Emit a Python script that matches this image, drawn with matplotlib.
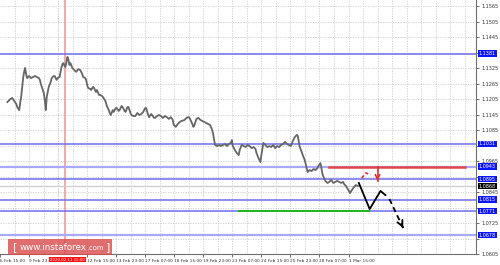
import matplotlib
matplotlib.use("Agg")
import matplotlib.pyplot as plt
import matplotlib.transforms as mtransforms
from matplotlib.patches import Rectangle

#------------------------------ data ------------------------------
bar_x = [0, 3, 5, 7, 9, 10, 12, 13, 14, 15, 16, 17, 18, 19, 20, 22, 24, 26, 28, 30,
         32, 33, 34, 35, 36, 37, 38, 39, 40, 41, 42, 44, 45, 47, 48, 50, 51, 53, 54, 55,
         56, 57, 58, 59, 60, 61, 62, 63, 64, 66, 68, 70, 72, 74, 76, 77, 79, 80, 81, 82,
         84, 85, 87, 88, 90, 91, 93, 94, 96, 97, 99, 100, 101, 103, 104, 105, 107, 108, 110, 111,
         113, 114, 116, 117, 119, 120, 122, 123, 125, 126, 128, 130, 132, 134, 136, 138, 140, 141, 143, 144,
         146, 147, 149, 150, 152, 154, 156, 158, 160, 162, 164, 166, 168, 169, 171, 173, 175, 177, 180, 182,
         184, 185, 187, 189, 190, 192, 194, 196, 198, 200, 202, 204, 206, 208, 209, 210, 211, 213, 215, 217,
         219, 221, 223, 225, 227, 228, 229, 231, 233, 235, 236, 238, 240, 242, 244, 246, 248, 250, 252, 253,
         255, 257, 258, 260, 262, 264, 266, 268, 270, 272, 274, 276, 278, 280, 282, 284, 286, 288, 290, 292,
         294, 295, 296, 297, 299, 300, 302, 303, 304, 305, 307, 309, 311, 313, 315, 316, 318, 319, 320, 322,
         323, 325, 327, 329, 331, 333, 335, 337, 339, 341, 342, 344, 345, 347, 348, 350, 352, 354, 356]
close = [1.1193, 1.1205, 1.1209, 1.1197, 1.1186, 1.1174, 1.1162, 1.1190, 1.1213, 1.1248, 1.1286, 1.1310, 1.1325, 1.1302, 1.1286, 1.1294, 1.1286, 1.1290, 1.1294, 1.1290,
         1.1286, 1.1279, 1.1263, 1.1252, 1.1240, 1.1228, 1.1201, 1.1162, 1.1213, 1.1232, 1.1252, 1.1271, 1.1286, 1.1294, 1.1294, 1.1279, 1.1286, 1.1290, 1.1310, 1.1329,
         1.1341, 1.1344, 1.1333, 1.1329, 1.1348, 1.1368, 1.1356, 1.1337, 1.1344, 1.1325, 1.1317, 1.1310, 1.1321, 1.1317, 1.1302, 1.1290, 1.1286, 1.1279, 1.1259, 1.1248,
         1.1244, 1.1240, 1.1252, 1.1248, 1.1232, 1.1240, 1.1221, 1.1221, 1.1217, 1.1213, 1.1201, 1.1193, 1.1178, 1.1162, 1.1151, 1.1143, 1.1162, 1.1155, 1.1170, 1.1170,
         1.1159, 1.1162, 1.1178, 1.1174, 1.1159, 1.1155, 1.1174, 1.1174, 1.1151, 1.1143, 1.1139, 1.1139, 1.1151, 1.1143, 1.1147, 1.1155, 1.1170, 1.1170, 1.1143, 1.1135,
         1.1147, 1.1143, 1.1132, 1.1132, 1.1139, 1.1143, 1.1139, 1.1132, 1.1139, 1.1135, 1.1128, 1.1135, 1.1124, 1.1104, 1.1097, 1.1108, 1.1116, 1.1120, 1.1124, 1.1132,
         1.1135, 1.1132, 1.1116, 1.1097, 1.1104, 1.1128, 1.1132, 1.1124, 1.1120, 1.1116, 1.1112, 1.1108, 1.1104, 1.1085, 1.1070, 1.1046, 1.1027, 1.1023, 1.1027, 1.1023,
         1.1027, 1.1031, 1.1023, 1.1031, 1.1035, 1.1046, 1.1023, 1.1008, 1.0996, 1.0988, 1.1008, 1.1027, 1.1023, 1.1019, 1.1027, 1.1023, 1.1015, 1.1019, 1.1012, 1.0996,
         1.0977, 1.0961, 1.0988, 1.1035, 1.1027, 1.1019, 1.1023, 1.1019, 1.1027, 1.1015, 1.1023, 1.1019, 1.1027, 1.1031, 1.1039, 1.1031, 1.1027, 1.1023, 1.1043, 1.1058,
         1.1066, 1.1062, 1.1039, 1.1019, 1.1000, 1.0988, 1.0969, 1.0953, 1.0938, 1.0922, 1.0930, 1.0926, 1.0934, 1.0930, 1.0938, 1.0946, 1.0957, 1.0938, 1.0915, 1.0895,
         1.0888, 1.0880, 1.0884, 1.0892, 1.0880, 1.0884, 1.0888, 1.0884, 1.0880, 1.0884, 1.0876, 1.0868, 1.0861, 1.0849, 1.0841, 1.0853, 1.0864, 1.0872, 1.0868]

price_ticks = [1.1565, 1.1505, 1.1445, 1.1385, 1.1325, 1.1265, 1.1205, 1.1145, 1.1085,
               1.1025, 1.0965, 1.0905, 1.0845, 1.0785, 1.0725, 1.0665, 1.0605]
date_ticks = [-7.5, 22, 81, 110.5, 140, 169.5, 199, 228.5, 258, 287.5, 317, 346.5]
date_labels = ["6 Feb 15:00", "9 Feb 23:00", "12 Feb 15:00", "13 Feb 23:00", "17 Feb 07:00",
               "18 Feb 15:00", "19 Feb 23:00", "23 Feb 07:00", "24 Feb 15:00", "25 Feb 23:00",
               "28 Feb 07:00", "1 Mar 15:00"]
cursor_x = 59
cursor_label = "2020.02.11 15:00"

levels = [1.1381, 1.1031, 1.0943, 1.0895, 1.0815, 1.0771, 1.0678]
current_price = 1.0868
resistance = 1.0943
resistance_span = [327, 465]
support = 1.0771
support_span = [235, 367]

# forecast sketch (bar, price)
fc_solid_x = [357, 368, 379, 384]
fc_solid_y = [1.0880, 1.0779, 1.0849, 1.0833]
fc_dash_x = [388, 402]
fc_dash_y = [1.0818, 1.0706]
alt_dash_x = [360, 364, 369]
alt_dash_y = [1.0899, 1.0919, 1.0911]
alt_down_x = [376, 376]
alt_down_y = [1.0942, 1.0888]

#----------------------------------------- figure -----------------------------------------
fig = plt.figure(figsize=(5.0, 2.65), dpi=100)
fig.patch.set_facecolor("white")
ax = fig.add_axes([0, 11 / 265, 476 / 500, 254 / 265])
ax.set_xlim(0, 476)
ax.set_ylim(1.0605, 1.15883)

# dotted grid
grid_kw = dict(color="#cccccc", lw=0.6, ls=(0, (1.5, 1.5)), zorder=0)
for p in price_ticks:
    ax.axhline(p, **grid_kw)
gx = [7.25, 36.75, 51.5, 66.25]
for i in range(1, len(date_ticks) - 1):
    gx.append(date_ticks[i])
    gx.append((date_ticks[i] + date_ticks[i + 1]) / 2)
gx += [date_ticks[-1] + 14.75 * k for k in range(0, 9)]
for g in gx:
    ax.axvline(g, **grid_kw)

# cursor line
ax.axvline(cursor_x, color="#f4a0a0", lw=1.3, zorder=1)

# levels
for lv in levels:
    light = lv in (1.0943, 1.0678)
    ax.axhline(lv, color="#a8a8ff" if light else "#6e6ef0", lw=1.6 if light else 1.1, zorder=2)
ax.axhline(current_price, color="#cfcfcf", lw=1.0, zorder=1)
ax.plot(resistance_span, [resistance, resistance], color="#e24848", lw=1.8, zorder=3)
ax.plot(support_span, [support, support], color="#1fb81f", lw=1.4, zorder=3)

# price
ax.plot(bar_x, close, color="#666666", lw=1.3, zorder=4)

# forecast arrows
ax.plot(fc_solid_x, fc_solid_y, color="black", lw=1.3, zorder=5)
ax.plot(fc_dash_x, fc_dash_y, color="black", lw=1.3, ls=(0, (3, 2)), zorder=5)
ax.annotate("", xy=(fc_dash_x[1], fc_dash_y[1]),
            xytext=(fc_dash_x[1] - 1.5, fc_dash_y[1] + 0.0012),
            arrowprops=dict(arrowstyle="->", color="black", lw=1.3, mutation_scale=10))
ax.plot(alt_dash_x, alt_dash_y, color="#e03030", lw=1.2, ls=(0, (2, 1.5)), zorder=5)
ax.plot(alt_down_x, alt_down_y, color="#e03030", lw=1.2, zorder=5)
ax.annotate("", xy=(alt_down_x[1], alt_down_y[1]),
            xytext=(alt_down_x[1], alt_down_y[1] + 0.001),
            arrowprops=dict(arrowstyle="->", color="#e03030", lw=1.2, mutation_scale=8))

# axes styling
for s in ("left", "top"):
    ax.spines[s].set_visible(False)
for s in ("right", "bottom"):
    ax.spines[s].set_color("#707070")
    ax.spines[s].set_linewidth(0.8)
ax.yaxis.tick_right()
ax.set_yticks(price_ticks)
# tick labels hidden under the highlighted level boxes
ytl = []
for p in price_ticks:
    hidden = any(abs(p - lv) < 0.0016 for lv in levels + [current_price])
    ytl.append("" if hidden else f"{p:.4f}")
ax.set_yticklabels(ytl)
ax.tick_params(axis="y", labelsize=3.5, length=2, pad=2, colors="#333333", width=0.5)
ax.set_xticks(date_ticks)
ax.set_xticklabels(date_labels, ha="left")
ax.tick_params(axis="x", labelsize=3.1, length=2, pad=1.5, colors="#333333", width=0.5)

# highlighted price labels on the right scale
tr = mtransforms.blended_transform_factory(ax.transAxes, ax.transData)
for lv in levels:
    ax.text(1.006, lv, f"{lv:.4f}", transform=tr, fontsize=3.5, color="white",
            va="center", ha="left", zorder=10, clip_on=False,
            bbox=dict(facecolor="#0a14ff", edgecolor="none", pad=0.6))
ax.text(1.006, current_price, f"{current_price:.4f}", transform=tr, fontsize=3.5,
        color="white", va="center", ha="left", zorder=11, clip_on=False,
        bbox=dict(facecolor="black", edgecolor="none", pad=0.6))

# cursor date label
trx = mtransforms.blended_transform_factory(ax.transData, ax.transAxes)
ax.text(cursor_x + 2, -0.022, cursor_label, transform=trx, fontsize=2.8, color="white",
        ha="center", va="center", clip_on=False, zorder=10,
        bbox=dict(facecolor="#ff1010", edgecolor="none", pad=0.6))

# watermark
fig.patches.append(Rectangle((8 / 500, 10 / 265), 104 / 500, 16 / 265, transform=fig.transFigure,
                             facecolor="#d94a4a", alpha=0.8, edgecolor="none", zorder=20))
r = fig.canvas.get_renderer()
fig.text(13 / 500, 18 / 265, "[", color="white", fontsize=8, va="center", ha="left", zorder=21)
t1 = fig.text(20 / 500, 18 / 265, "www.instaforex", color="white", fontsize=6.3, va="center",
              ha="left", zorder=21)
bb = t1.get_window_extent(renderer=r)
t2 = fig.text(bb.x1 / 500, 17.5 / 265, ".com", color="white", fontsize=4.8, va="center",
              ha="left", zorder=21)
bb2 = t2.get_window_extent(renderer=r)
fig.text((bb2.x1 + 3) / 500, 18 / 265, "]", color="white", fontsize=8, va="center", ha="left", zorder=21)

fig.savefig("out.png", dpi=100)
